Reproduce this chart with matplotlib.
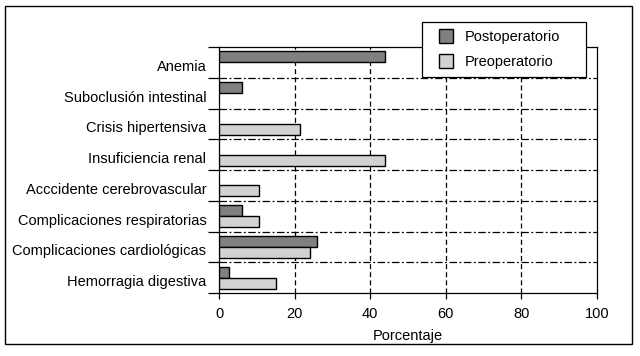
import matplotlib
matplotlib.use("Agg")
import matplotlib.pyplot as plt
import numpy as np
from matplotlib.patches import Rectangle
from matplotlib.lines import Line2D

plt.rcParams['font.family'] = ['Liberation Sans', 'DejaVu Sans']

categories = ["Anemia", "Suboclusión intestinal", "Crisis hipertensiva",
              "Insuficiencia renal", "Acccidente cerebrovascular",
              "Complicaciones respiratorias", "Complicaciones cardiológicas",
              "Hemorragia digestiva"]
postoperatorio = [44, 6, 0, 0, 0, 6, 26, 2.7]
preoperatorio = [0, 0, 21.3, 44, 10.5, 10.5, 24.2, 15.2]
series_names = ["Postoperatorio", "Preoperatorio"]
xticks = [0, 20, 40, 60, 80, 100]
xlabel = "Porcentaje"

c_post = '#808080'
c_pre = '#d2d2d2'

fig = plt.figure(figsize=(6.4, 3.56), dpi=100)
ax = fig.add_axes([219/640, 1-293/356, (597-219)/640, (293-47)/356])

n = len(categories)
y = np.arange(n)
h = 0.36
post = np.array(postoperatorio, dtype=float)
pre = np.array(preoperatorio, dtype=float)
mp = post > 0
mq = pre > 0
ax.barh(y[mp] - h/2, post[mp], height=h, color=c_post, edgecolor='black',
        linewidth=1.0, zorder=3)
ax.barh(y[mq] + h/2, pre[mq], height=h, color=c_pre, edgecolor='black',
        linewidth=1.0, zorder=3)

ax.set_xlim(0, 100)
ax.set_ylim(n - 0.5, -0.5)

# category separators (dash-dot)
for b in np.arange(0.5, n - 0.5, 1):
    ax.axhline(b, color='black', linewidth=0.9, linestyle=(0, (6, 2, 1.5, 2)), zorder=1)
# vertical dashed gridlines
for xv in xticks[1:-1]:
    ax.axvline(xv, color='black', linewidth=0.9, linestyle=(0, (4, 2.5)), zorder=1)

ax.set_xticks(xticks)
ax.set_xticklabels([str(v) for v in xticks], fontsize=10.5)
ax.tick_params(axis='x', direction='out', length=4, width=0.9, pad=6)

ax.set_yticks(np.arange(-0.5, n, 1))
ax.set_yticklabels([])
ax.tick_params(axis='y', which='major', direction='out', length=8, width=0.9)
ax.set_yticks(y + 0.1, minor=True)
ax.set_yticklabels(categories, minor=True, fontsize=10.5)
ax.tick_params(axis='y', which='minor', length=0, pad=9)

for s in ax.spines.values():
    s.set_linewidth(0.9)

ax.set_xlabel(xlabel, fontsize=10.5, labelpad=6)

handles = [Line2D([], [], linestyle='none', marker='s', markersize=9.5,
                  markerfacecolor=c, markeredgecolor='black', markeredgewidth=1.0)
           for c in (c_post, c_pre)]
leg = ax.legend(handles, series_names, loc='upper left',
                bbox_to_anchor=(0.536, 0.879, 0.434, 0.224), mode='expand',
                fontsize=10.5, frameon=True, fancybox=False, framealpha=1,
                edgecolor='black', handlelength=2.1, handletextpad=0.25,
                labelspacing=0.7, borderpad=0.6, borderaxespad=0)
leg.get_frame().set_linewidth(0.9)
leg.set_zorder(10)

fig.patches.append(Rectangle((5/640, 1-344/356), (632-5)/640, (344-6)/356,
                             transform=fig.transFigure, fill=False,
                             edgecolor='black', linewidth=1.0))

fig.savefig("out.png", dpi=100)
